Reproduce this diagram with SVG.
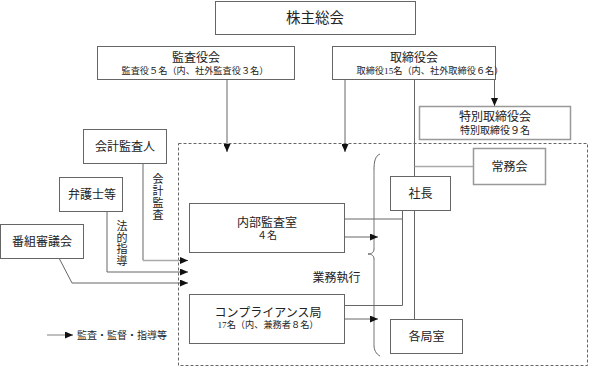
<svg xmlns="http://www.w3.org/2000/svg" width="594" height="368" viewBox="0 0 594 368">
<style>
text{font-family:"Liberation Serif","Noto Sans CJK JP",serif;fill:#222;text-anchor:middle;dominant-baseline:central}
.box{fill:#fff;stroke:#666;stroke-width:1}
.lbox{fill:#fff;stroke:#999;stroke-width:1.5}
.ln{fill:none;stroke:#666;stroke-width:1}
.gl{fill:none;stroke:#aaa;stroke-width:1.5}
.t12{font-size:12px}
.t9{font-size:9.2px}
.t10{font-size:10px}
.tv{font-size:11px}
</style>
<defs>
<marker id="ah" markerUnits="userSpaceOnUse" markerWidth="8" markerHeight="7" refX="8" refY="3.5" orient="auto">
<path d="M0,0 L8,3.5 L0,7 z" fill="#111"/>
</marker>
</defs>
<rect x="0" y="0" width="594" height="368" fill="#fff"/>
<rect x="178.5" y="143.5" width="409" height="222" fill="none" stroke="#666" stroke-dasharray="3,2"/>
<g id="connectors">
<path class="ln" d="M380,154 C375,156 374,162 374,170 V249 C374,252 372,254 368,254 C372,254 374,256 374,259 V345 C374,350 376,354 380,356"/>
<path fill="none" stroke="#bbb" stroke-width="2" d="M374,170 V248 M374,260 V345"/>
<path class="ln" d="M227,79 V152" marker-end="url(#ah)"/>
<path class="ln" d="M345,79 V152" marker-end="url(#ah)"/>
<path class="ln" d="M494.5,79 V106" marker-end="url(#ah)"/>
<path class="ln" d="M414.5,79 V176"/>
<path class="gl" d="M414.5,166.5 H473"/>
<path class="ln" d="M402.5,210 V305.5 H344"/>
<path class="ln" d="M344,219 H402.5"/>
<path class="ln" d="M414.5,210 V319"/>
<path class="ln" d="M344,237 H378" marker-end="url(#ah)"/>
<path class="ln" d="M344,319 H378" marker-end="url(#ah)"/>
<path class="ln" d="M143,163 V260.5"/>
<path class="gl" d="M143,260.5 H180"/>
<path class="ln" d="M179,260.5 H188" marker-end="url(#ah)"/>
<path class="ln" d="M107,211 V272 H188" marker-end="url(#ah)"/>
<path class="ln" d="M59,258 L72,283 H188" marker-end="url(#ah)"/>
</g>
<g id="legend">
<path class="gl" d="M47,335 H66"/>
<path class="ln" d="M65,335 H73" marker-end="url(#ah)"/>
<text class="t10" x="122" y="335">監査・監督・指導等</text>
</g>
<g id="kabunushi">
<rect class="box" x="215.5" y="1.5" width="200" height="33"/>
<text x="315" y="18" style="font-size:14.5px">株主総会</text>
</g>
<g id="kansayakukai">
<rect class="box" x="97.5" y="46.5" width="197" height="33"/>
<text class="t12" x="196" y="57.5">監査役会</text>
<text class="t9" x="195" y="71">監査役５名（内、社外監査役３名）</text>
</g>
<g id="torishimariyakukai">
<rect class="box" x="332.5" y="46.5" width="163" height="33"/>
<text class="t12" x="414" y="57.5">取締役会</text>
<text class="t9" x="430" y="71">取締役15名（内、社外取締役６名）</text>
</g>
<g id="tokubetsu">
<rect class="lbox" x="419.5" y="106.5" width="151" height="33"/>
<text class="t12" x="495" y="117">特別取締役会</text>
<text class="t10" x="495" y="130">特別取締役９名</text>
</g>
<g id="kaikei">
<rect class="box" x="83.5" y="129.5" width="83" height="34"/>
<text class="t12" x="125" y="147">会計監査人</text>
</g>
<g id="bengoshi">
<rect class="box" x="59.5" y="177.5" width="63" height="34"/>
<text class="t12" x="92" y="194.5">弁護士等</text>
</g>
<g id="bangumi">
<rect class="box" x="0.5" y="224.5" width="83" height="34"/>
<text class="t12" x="42" y="241.5">番組審議会</text>
</g>
<g id="label-kaikeikansa">
<text class="tv" x="158" y="179">会</text>
<text class="tv" x="158" y="191">計</text>
<text class="tv" x="158" y="203">監</text>
<text class="tv" x="158" y="215">査</text>
</g>
<g id="label-houteki">
<text class="tv" x="122" y="226">法</text>
<text class="tv" x="122" y="237.5">的</text>
<text class="tv" x="122" y="249">指</text>
<text class="tv" x="122" y="260.5">導</text>
</g>
<g id="naibukansa">
<rect class="box" x="189.5" y="203.5" width="155" height="49"/>
<text class="t12" x="267" y="223">内部監査室</text>
<text class="t10" x="267" y="235.5">４名</text>
</g>
<g id="compliance">
<rect class="box" x="189.5" y="294.5" width="155" height="49"/>
<text class="t12" x="268" y="313">コンプライアンス局</text>
<text class="t9" x="268" y="324.5">17名（内、兼務者８名）</text>
</g>
<g id="gyoumu">
<text class="t12" x="336.5" y="278">業務執行</text>
</g>
<g id="shacho">
<rect class="box" x="390.5" y="176.5" width="60" height="34"/>
<text class="t12" x="420.5" y="193.5">社長</text>
</g>
<g id="joumukai">
<rect class="lbox" x="473.5" y="148.5" width="72" height="36"/>
<text class="t12" x="509.5" y="166.5">常務会</text>
</g>
<g id="kakukyoku">
<rect class="box" x="390.5" y="319.5" width="72" height="34"/>
<text class="t12" x="426.5" y="337">各局室</text>
</g>
</svg>
